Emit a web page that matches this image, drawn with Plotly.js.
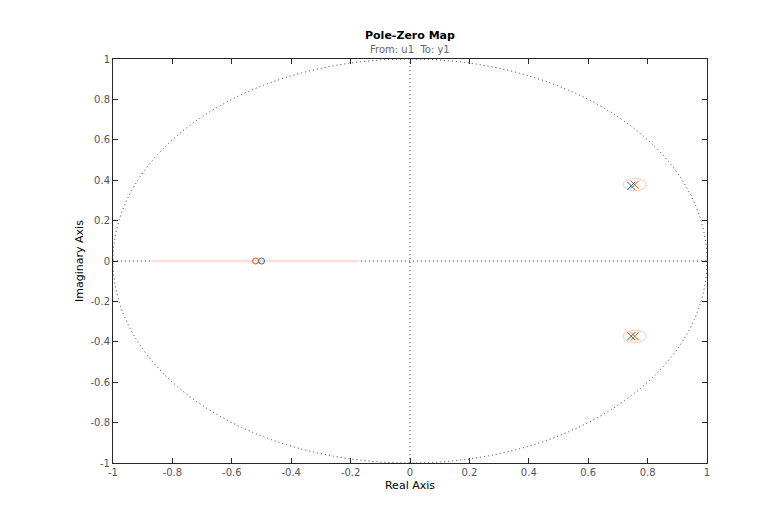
<!DOCTYPE html>
<html>
<head>
<meta charset="utf-8">
<script src="https://cdn.plot.ly/plotly-3.0.1.min.js"></script>
<style>html,body{margin:0;padding:0;background:#fff;}#chart{width:780px;height:520px;}</style>
</head>
<body>
<div id="chart"></div>
<script>
// Model A (blue) poles and zeros
const polesA_re = [0.745, 0.745];
const polesA_im = [0.372, -0.372];
const zerosA_re = [-0.500];
const zerosA_im = [0.0];
// Model B (orange) poles and zeros
const polesB_re = [0.757, 0.757];
const polesB_im = [0.378, -0.373];
const zerosB_re = [-0.520];
const zerosB_im = [0.0];
// Uncertainty regions of model B (light orange)
const poleUnc_re = [0.757, 0.757];
const poleUnc_im = [0.378, -0.373];
const poleUnc_rx = [0.039, 0.039];
const poleUnc_ry = [0.030, 0.030];
const zeroUnc_min = -0.87;
const zeroUnc_max = -0.17;
const ticks = [-1, -0.8, -0.6, -0.4, -0.2, 0, 0.2, 0.4, 0.6, 0.8, 1];
const tickText = ['-1', '-0.8', '-0.6', '-0.4', '-0.2', '0', '0.2', '0.4', '0.6', '0.8', '1'];

const blue = '#0072BD', orange = '#D95319', light = '#F5CBB8';
const dotDash = '1px,3px';

const traces = [
  {x: polesA_re, y: polesA_im, mode: 'markers', type: 'scatter',
   marker: {symbol: 'x-thin', size: 8, line: {color: blue, width: 1}}},
  {x: zerosA_re, y: zerosA_im, mode: 'markers', type: 'scatter',
   marker: {symbol: 'circle-open', size: 6, color: blue, line: {color: blue, width: 1}}},
  {x: polesB_re, y: polesB_im, mode: 'markers', type: 'scatter',
   marker: {symbol: 'x-thin', size: 8, line: {color: orange, width: 1}}},
  {x: zerosB_re, y: zerosB_im, mode: 'markers', type: 'scatter',
   marker: {symbol: 'circle-open', size: 6, color: orange, line: {color: orange, width: 1}}}
];

const shapes = [
  {type: 'circle', xref: 'x', yref: 'y', x0: -1, x1: 1, y0: -1, y1: 1,
   line: {color: '#333', width: 1, dash: dotDash}, layer: 'below'},
  {type: 'line', xref: 'x', yref: 'y', x0: 0, x1: 0, y0: -1, y1: 1,
   line: {color: '#333', width: 1, dash: dotDash}, layer: 'below'},
  {type: 'line', xref: 'x', yref: 'y', x0: -1, x1: 1, y0: 0, y1: 0,
   line: {color: '#333', width: 1, dash: dotDash}, layer: 'below'},
  {type: 'line', xref: 'x', yref: 'y', x0: zeroUnc_min, x1: zeroUnc_max, y0: 0, y1: 0,
   line: {color: '#FAE0D4', width: 2.5}, layer: 'between'}
];
for (let i = 0; i < poleUnc_re.length; i++) {
  shapes.push({type: 'circle', xref: 'x', yref: 'y',
    x0: poleUnc_re[i] - poleUnc_rx[i], x1: poleUnc_re[i] + poleUnc_rx[i],
    y0: poleUnc_im[i] - poleUnc_ry[i], y1: poleUnc_im[i] + poleUnc_ry[i],
    line: {color: light, width: 1}, layer: 'below'});
}

const axisCommon = {
  range: [-1, 1], tickvals: ticks, ticktext: tickText,
  ticks: 'inside', ticklen: 5, tickwidth: 1, tickcolor: '#262626',
  showline: true, linecolor: '#262626', linewidth: 1, mirror: 'ticks',
  showgrid: false, zeroline: false,
  tickfont: {family: 'DejaVu Sans', size: 10, color: '#555'}
};

const layout = {
  width: 780, height: 520,
  margin: {l: 113, r: 73, t: 59, b: 57},
  paper_bgcolor: '#fff', plot_bgcolor: '#fff',
  showlegend: false,
  font: {family: 'DejaVu Sans'},
  xaxis: Object.assign({}, axisCommon, {
    title: {text: 'Real Axis', font: {family: 'DejaVu Sans', size: 11, color: '#000'}, standoff: 4}
  }),
  yaxis: Object.assign({}, axisCommon, {
    title: {text: 'Imaginary Axis', font: {family: 'DejaVu Sans', size: 11, color: '#000'}, standoff: 4}
  }),
  shapes: shapes,
  annotations: [
    {text: '<b>Pole-Zero Map</b>', xref: 'paper', yref: 'paper', x: 0.5, y: 1, yshift: 24,
     showarrow: false, font: {family: 'DejaVu Sans', size: 11, color: '#000'}, yanchor: 'middle'},
    {text: 'From: u1  To: y1', xref: 'paper', yref: 'paper', x: 0.5, y: 1, yshift: 10,
     showarrow: false, font: {family: 'DejaVu Sans', size: 10, color: '#666'}, yanchor: 'middle'}
  ]
};

Plotly.newPlot('chart', traces, layout, {displayModeBar: false, staticPlot: true});
</script>
</body>
</html>
